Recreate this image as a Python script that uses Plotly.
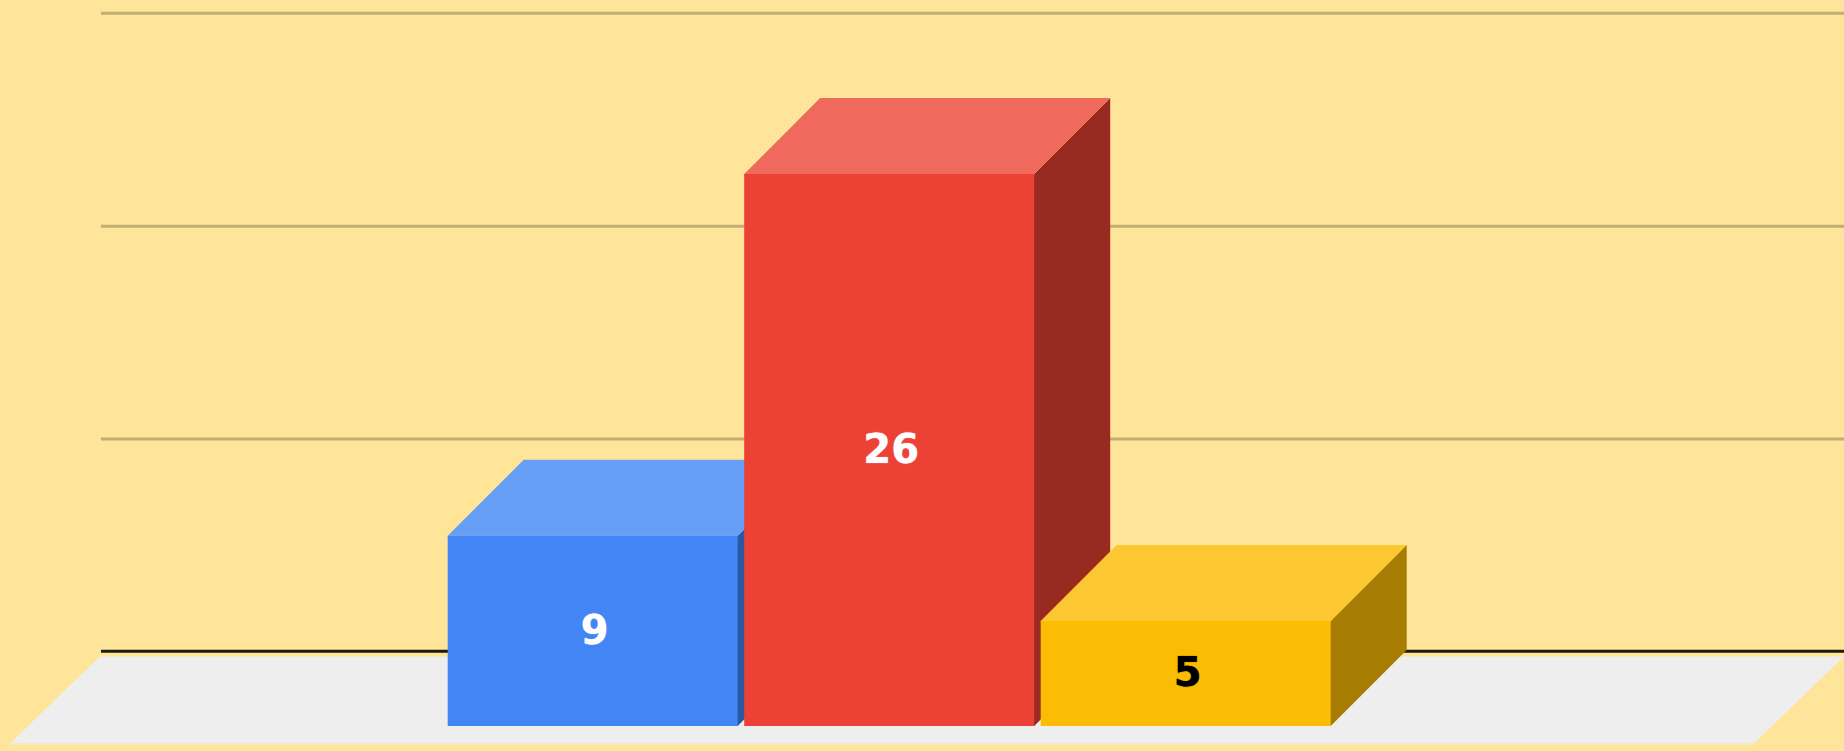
import plotly.graph_objects as go

# Data
categories = ["A", "B", "C"]
values = [9, 26, 5]
labels = ["9", "26", "5"]
label_colors = ["#ffffff", "#ffffff", "#000000"]
grid_values = [10, 20, 30]

# Styles
front_colors = ["#4285f4", "#ec4235", "#fbbc04"]
top_colors = ["#689ff6", "#f0695d", "#fcc731"]
side_colors = ["#2c58a2", "#992a22", "#a67d02"]
BG = "#ffe599"

W, H = 1844, 751
SLOT_PX = 296.5
PX_PER_UNIT = 21.28
FIRST_CENTER_PX = 592.7
ZERO_Y_PX = 727.3
DEPTH_PX = 76

def xval(px):
    return (px - FIRST_CENTER_PX) / SLOT_PX

def yval(px):
    return (ZERO_Y_PX - px) / PX_PER_UNIT

DX = DEPTH_PX / SLOT_PX
DY = DEPTH_PX / PX_PER_UNIT
BAR_W = 290 / SLOT_PX
BAR_BASE = yval(726)
BACK_LEFT = xval(101)
XMAX = xval(W)
SEAM_X = 1.5 / SLOT_PX
SEAM_Y = 1.5 / PX_PER_UNIT
LABEL_DX = 2 / SLOT_PX
LABEL_DY = -3 / PX_PER_UNIT

fig = go.Figure()

def poly(xs, ys, color):
    fig.add_trace(go.Scatter(x=xs, y=ys, mode="none", fill="toself", fillcolor=color,
                             hoverinfo="skip", showlegend=False))

# Gridlines on the back wall
for g in grid_values:
    fig.add_trace(go.Scatter(x=[BACK_LEFT, XMAX], y=[g + DY - 0.02, g + DY - 0.02], mode="lines",
                             line=dict(color="#c2ae74", width=3), hoverinfo="skip", showlegend=False))

# Floor
floor_front = yval(743.5)
floor_back = yval(656.5)
poly([xval(10), xval(1754), xval(1844), xval(100)],
     [floor_front, floor_front, floor_back, floor_back], "#eeeeee")
fig.add_trace(go.Scatter(x=[xval(10), xval(1754)], y=[yval(744)] * 2, mode="lines",
                         line=dict(color="#f7e7c5", width=2), hoverinfo="skip", showlegend=False))

# Baseline
fig.add_trace(go.Scatter(x=[BACK_LEFT, XMAX], y=[DY, DY], mode="lines",
                         line=dict(color="#1c1a0e", width=3), hoverinfo="skip", showlegend=False))

# Bars: side and top run slightly under the front so no seam shows
for i, v in enumerate(values):
    x0, x1 = i - BAR_W / 2, i + BAR_W / 2
    poly([x1 - SEAM_X, x1, x1 + DX, x1 + DX, x1, x1 - SEAM_X],
         [BAR_BASE, BAR_BASE, BAR_BASE + DY, v + DY, v, v], side_colors[i])
    poly([x0, x1, x1 + DX, x0 + DX],
         [v, v, v + DY, v + DY], top_colors[i])
    poly([x0, x1, x1, x0], [v - SEAM_Y, v - SEAM_Y, v, v], top_colors[i])
    poly([x0, x1, x1, x0], [BAR_BASE, BAR_BASE, v, v], front_colors[i])

for i, v in enumerate(values):
    shadow = f"0 0 1px {label_colors[i]}"
    fig.add_trace(go.Scatter(x=[i + LABEL_DX], y=[(v + BAR_BASE) / 2 + LABEL_DY], mode="text", text=[labels[i]],
                             textposition="middle center",
                             textfont=dict(family="DejaVu Sans", size=40, color=label_colors[i],
                                           weight="bold", shadow=shadow),
                             hoverinfo="skip", showlegend=False))

fig.update_layout(
    width=W, height=H, autosize=False,
    margin=dict(l=0, r=0, t=0, b=0),
    paper_bgcolor=BG, plot_bgcolor=BG,
    showlegend=False,
    xaxis=dict(range=[xval(0), xval(W)], visible=False, fixedrange=True),
    yaxis=dict(range=[yval(H), yval(0)], visible=False, fixedrange=True),
)
fig.write_html("out.html", config={"displayModeBar": False},
               post_script="document.body.style.margin='0';document.documentElement.style.overflow='hidden';")
